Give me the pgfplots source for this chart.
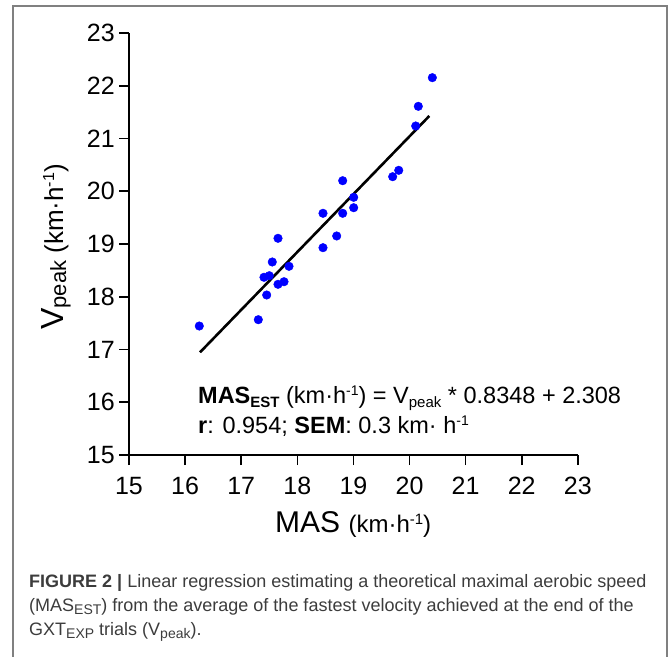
\documentclass[border=0pt]{standalone}
\usepackage{fontspec}
\setmainfont{Liberation Sans}
\usepackage{pgfplots}
\pgfplotsset{compat=1.18}
\definecolor{captxt}{HTML}{3C3C3C}
\definecolor{framegray}{HTML}{808080}
\definecolor{dotblue}{RGB}{0,0,255}

\newcommand{\fs}[1]{\fontsize{#1}{#1}\selectfont}

\begin{document}
\begin{tikzpicture}
\useasboundingbox (0pt,0pt) rectangle (669pt,656pt);
% frame (open at the bottom)
\draw[framegray, line width=1.8pt] (13pt,-10pt) -- (13pt,649.7pt) -- (667.3pt,649.7pt) -- (667.3pt,-10pt);

\begin{axis}[
    at={(129pt,201pt)}, anchor=south west,
    x=56.1pt, y=52.75pt,
    xmin=15, xmax=23, ymin=15, ymax=23,
    axis lines=left,
    axis line style={-, line width=1.6pt},
    xtick={15,...,23}, ytick={15,...,23},
    tick align=outside,
    major tick length=10pt,
    tick style={line width=1.6pt, black},
    tick label style={font=\fs{25}},
    xticklabel style={inner sep=7pt, yshift=-5pt},
    yticklabel style={inner sep=4pt},
    /pgf/number format/assume math mode=true,
    clip=false,
]
% data points (MAS, Vpeak)
\addplot[only marks, mark=*, mark size=4.3pt, mark options={fill=dotblue, draw=dotblue}] coordinates {
    (16.253,17.445) (17.305,17.565) (17.454,18.033) (17.406,18.369)
    (17.501,18.399) (17.554,18.659) (17.656,19.108) (17.656,18.236)
    (17.763,18.285) (17.852,18.577) (18.458,19.582) (18.458,18.930)
    (18.702,19.152) (18.809,20.200) (18.809,19.582) (19.005,19.885)
    (19.005,19.688) (19.700,20.276) (19.808,20.397) (20.111,21.237)
    (20.157,21.610) (20.407,22.153)
};
% regression line
\addplot[black, line width=2.6pt] coordinates {(16.266,16.947) (20.353,21.427)};
\end{axis}

% regression equation
\node[anchor=base west, inner sep=0pt, font=\fs{23.5}] at (198pt,252pt)
  {\textbf{MAS}\raisebox{-4pt}{\fs{15}\textbf{EST}} (km·h\raisebox{8pt}{\fs{14}-1}) = V\raisebox{-4pt}{\fs{15}peak} * 0.8348 + 2.308};
\node[anchor=base west, inner sep=0pt, font=\fs{23.5}] at (198pt,222pt)
  {\textbf{r}: 0.954; \textbf{SEM}: 0.3 km· h\raisebox{8pt}{\fs{14}-1}};

% axis labels
\node[anchor=base west, inner sep=0pt] at (275pt,123pt)
  {\fs{30}MAS \fs{24}(km·h\raisebox{8pt}{\fs{15}-1})};
\node[rotate=90, anchor=base west, inner sep=0pt] at (63pt,326pt)
  {\fs{32}V\raisebox{-3pt}{\fs{22}peak}\fs{26}\ (km·h\raisebox{9pt}{\fs{16}-1})};

% caption
\begin{scope}[every node/.style={anchor=base west, inner sep=0pt, font=\fs{18}, text=captxt}]
\node at (29pt,69pt) {\textbf{FIGURE 2 |} Linear regression estimating a theoretical maximal aerobic speed};
\node at (29pt,45pt) {(MAS\raisebox{-3.5pt}{\fs{14}EST}) from the average of the fastest velocity achieved at the end of the};
\node at (29pt,21pt) {GXT\raisebox{-3.5pt}{\fs{14}EXP} trials (V\raisebox{-3.5pt}{\fs{14}peak}).};
\end{scope}
\end{tikzpicture}
\end{document}
